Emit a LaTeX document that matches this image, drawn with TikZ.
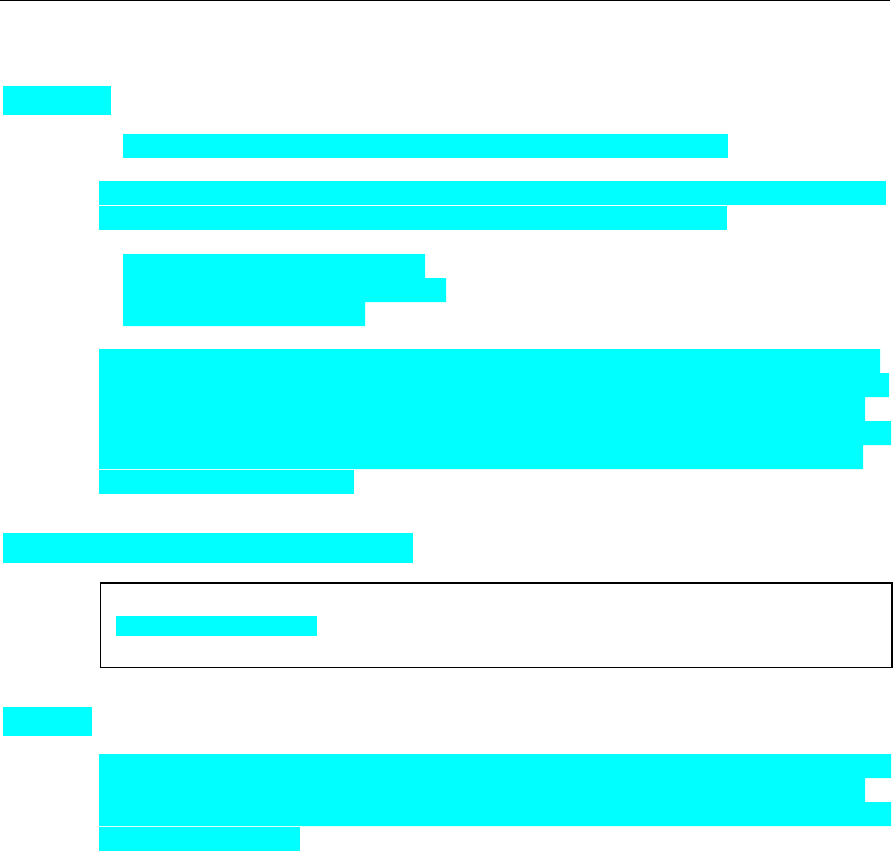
\documentclass[tikz,border=0pt]{standalone}
\definecolor{ciano}{RGB}{0,255,255}
\tikzset{riga/.style={fill=ciano}}
\begin{document}
\begin{tikzpicture}[x=0.01cm,y=-0.01cm]
        \useasboundingbox (0,0) rectangle (894,851);
        \draw[line width=0.37pt] (0,0.65) -- (890,0.65); % linea in alto
        % primo titolo
        \fill[riga] (3,86) rectangle (111,115);
        \fill[riga] (123,134) rectangle (728,158);
        \fill[riga] (99,181) rectangle (886,205);
        \fill[riga] (99,206) rectangle (727,230);
        % blocco rientrato
        \fill[riga] (123,254) -- (425,254) -- (425,278) -- (446,278) -- (446,302) -- (365,302) -- (365,326) -- (123,326) -- cycle;
        % paragrafo lungo
        \fill[riga] (99,349) -- (880,349) -- (880,373) -- (889,373) -- (889,397) -- (865,397) -- (865,421) -- (891,421) -- (891,445) -- (863,445) -- (863,469) -- (99,469) -- cycle;
        \fill[riga] (99,470) rectangle (354,494);
        % secondo titolo e riquadro
        \fill[riga] (3,533) rectangle (413,563);
        \draw[line width=0.4pt] (100.7,583) rectangle (892,667.7);
        \fill[riga] (116,616) rectangle (317,636);
        % terzo titolo
        \fill[riga] (3,707) rectangle (92,736);
        \fill[riga] (99,754) -- (891,754) -- (891,778) -- (865,778) -- (865,802) -- (891,802) -- (891,826) -- (99,826) -- cycle;
        \fill[riga] (99,827) rectangle (300,851);
    \end{tikzpicture}
\end{document}
